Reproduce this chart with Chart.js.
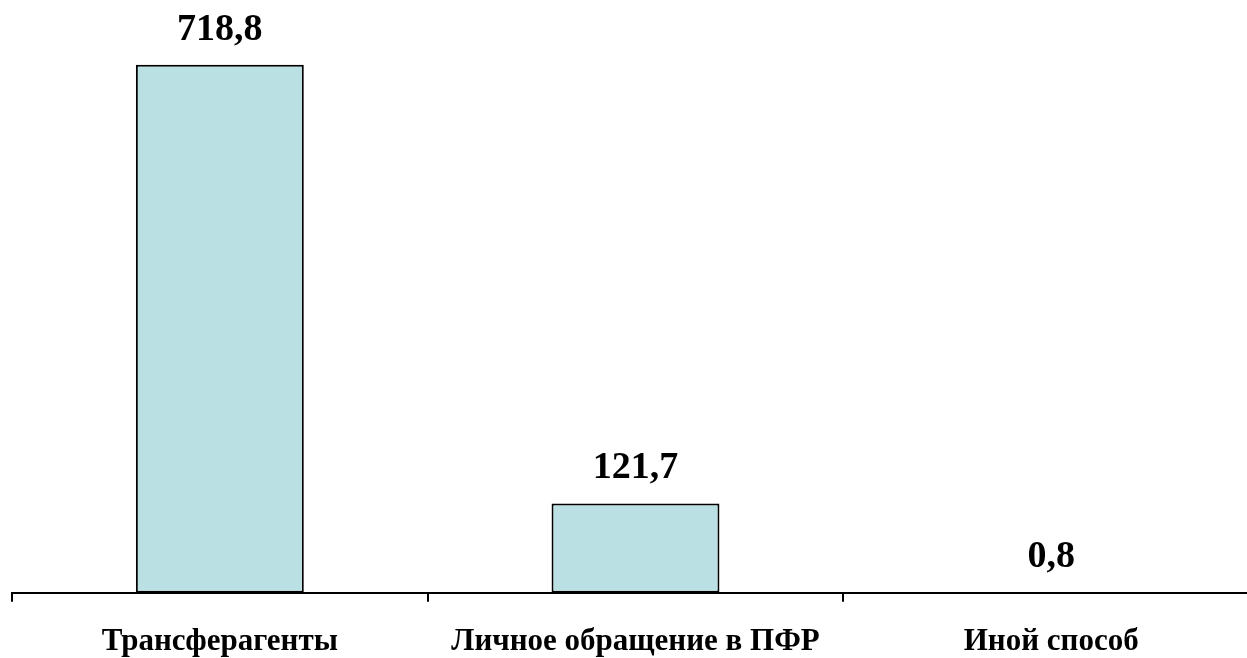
<!DOCTYPE html>
<html>
<head>
<meta charset="utf-8">
<script src="https://cdn.jsdelivr.net/npm/chart.js@4/dist/chart.umd.min.js"></script>
<style>
  html, body { margin: 0; padding: 0; background: #fff; overflow: hidden; }
  #wrap { width: 1262px; height: 685px; }
</style>
</head>
<body>
<div id="wrap"><canvas id="chart"></canvas></div>
<script>
const categories = ['Трансферагенты', 'Личное обращение в ПФР', 'Иной способ'];
const values = [718.8, 121.7, 0.8];
const valueLabels = ['718,8', '121,7', '0,8'];

// draw the numbers above each bar
const valueLabelPlugin = {
  id: 'valueLabels',
  afterDatasetsDraw(chart) {
    const ctx = chart.ctx;
    const meta = chart.getDatasetMeta(0);
    ctx.save();
    ctx.fillStyle = '#000';
    ctx.font = 'bold 38px "Liberation Serif", "Times New Roman", serif';
    ctx.textAlign = 'center';
    ctx.textBaseline = 'alphabetic';
    meta.data.forEach((bar, i) => {
      ctx.fillText(valueLabels[i], bar.x, bar.y - 25);
    });
    ctx.restore();
  }
};

const ctx = document.getElementById('chart').getContext('2d');
new Chart(ctx, {
  type: 'bar',
  data: {
    labels: categories,
    datasets: [{
      data: values,
      backgroundColor: '#BBE0E3',
      borderColor: '#000',
      borderWidth: 2,
      borderSkipped: false,
      barPercentage: 0.404,
      categoryPercentage: 1
    }]
  },
  plugins: [valueLabelPlugin],
  options: {
    responsive: true,
    maintainAspectRatio: false,
    animation: false,
    layout: { padding: { left: 12, right: 3, top: 5, bottom: 2 } },
    plugins: { legend: { display: false }, tooltip: { enabled: false } },
    scales: {
      x: {
        offset: true,
        border: { display: true, color: '#000', width: 2 },
        grid: { display: true, drawOnChartArea: false, drawTicks: true, tickLength: 9, color: '#000', lineWidth: 2, offset: true },
        ticks: {
          color: '#000',
          padding: 22,
          font: { family: '"Liberation Serif", "Times New Roman", serif', size: 31, weight: 'bold' }
        }
      },
      y: {
        display: false,
        min: 0,
        max: 800
      }
    }
  }
});
</script>
</body>
</html>
